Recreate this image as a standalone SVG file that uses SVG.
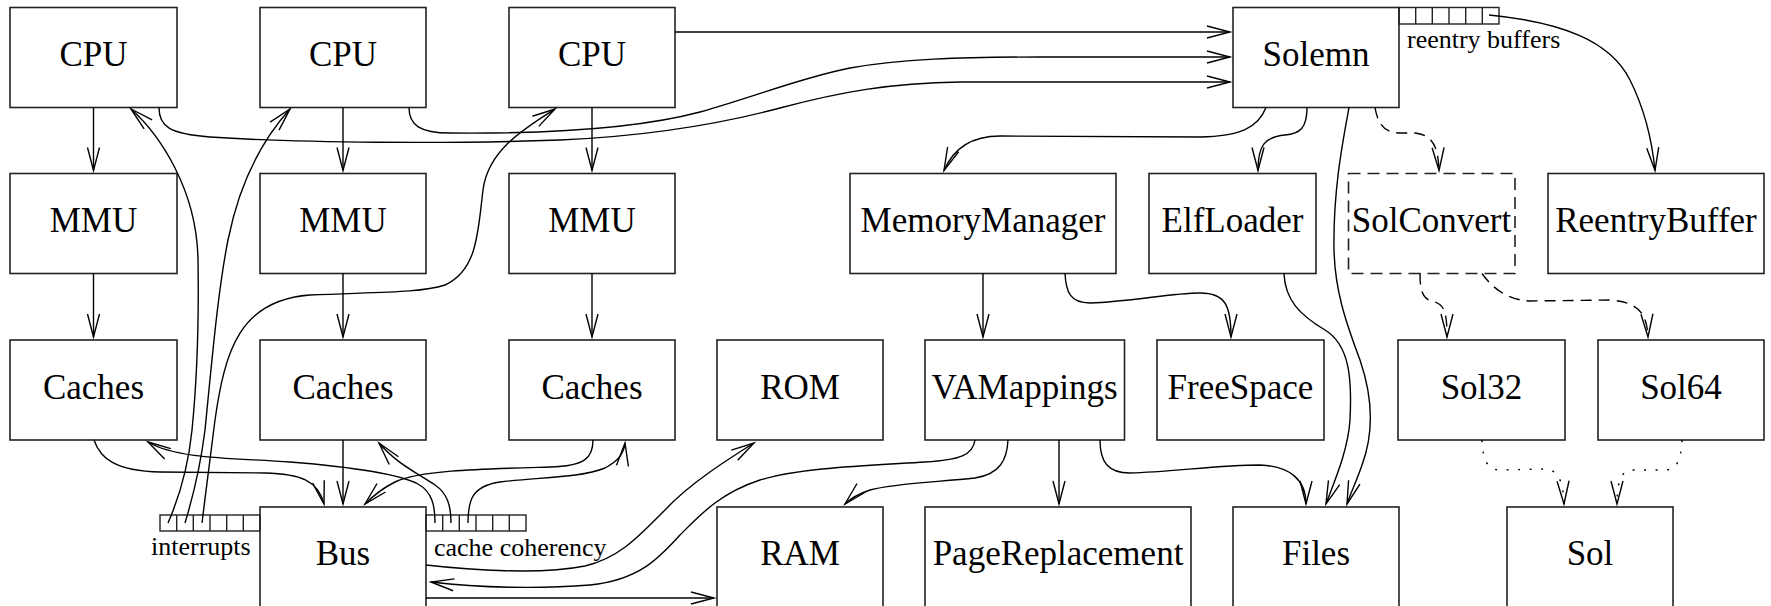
<svg xmlns="http://www.w3.org/2000/svg" width="1771" height="606" viewBox="0 0 1771 606">
<style>
.box{fill:white;stroke:#222;stroke-width:1.6}
.dbox{fill:white;stroke:#222;stroke-width:1.6;stroke-dasharray:12 7}
.lbl{font-family:"Liberation Serif","Times New Roman",serif;font-size:35px;text-anchor:middle;fill:#000}
.small{font-family:"Liberation Serif","Times New Roman",serif;font-size:26px;fill:#000}
.strip{fill:none;stroke:#222;stroke-width:1.4}
.c{fill:none;stroke:#000;stroke-width:1.4;marker-end:url(#arr)}
.dash{stroke-dasharray:11 7}
.dot{stroke-dasharray:2 9.5}
</style>
<defs>
<marker id="arr" markerUnits="userSpaceOnUse" markerWidth="30" markerHeight="30" viewBox="-26 -13 30 26" refX="0" refY="0" orient="auto" overflow="visible">
<path d="M-23,-6 L0,0 L-23,6" fill="none" stroke="#000" stroke-width="1.4"/>
</marker>
</defs>

<g id="cpu1"><rect class="box" x="10" y="7.5" width="167" height="100"/><text class="lbl" x="93.5" y="66">CPU</text></g>
<g id="cpu2"><rect class="box" x="260" y="7.5" width="166" height="100"/><text class="lbl" x="343" y="66">CPU</text></g>
<g id="cpu3"><rect class="box" x="509" y="7.5" width="166" height="100"/><text class="lbl" x="592" y="66">CPU</text></g>
<g id="solemn"><rect class="box" x="1233" y="7.5" width="166" height="100"/><text class="lbl" x="1316" y="66">Solemn</text>
<g id="reentry-buffers"><rect class="strip" x="1399" y="7.5" width="100" height="16.5"/>
<path class="strip" d="M1415.7,7.5v16.5M1432.3,7.5v16.5M1449,7.5v16.5M1465.7,7.5v16.5M1482.3,7.5v16.5"/>
<text class="small" x="1407" y="48">reentry buffers</text></g></g>

<g id="mmu1"><rect class="box" x="10" y="173.5" width="167" height="100"/><text class="lbl" x="93.5" y="232">MMU</text></g>
<g id="mmu2"><rect class="box" x="260" y="173.5" width="166" height="100"/><text class="lbl" x="343" y="232">MMU</text></g>
<g id="mmu3"><rect class="box" x="509" y="173.5" width="166" height="100"/><text class="lbl" x="592" y="232">MMU</text></g>
<g id="memorymanager"><rect class="box" x="850" y="173.5" width="266" height="100"/><text class="lbl" x="983" y="232">MemoryManager</text></g>
<g id="elfloader"><rect class="box" x="1149" y="173.5" width="167" height="100"/><text class="lbl" x="1232.5" y="232">ElfLoader</text></g>
<g id="solconvert"><rect class="dbox" x="1348.5" y="173.5" width="166.5" height="100"/><text class="lbl" x="1431.5" y="232">SolConvert</text></g>
<g id="reentrybuffer"><rect class="box" x="1548" y="173.5" width="216" height="100"/><text class="lbl" x="1656" y="232">ReentryBuffer</text></g>

<g id="caches1"><rect class="box" x="10" y="340" width="167" height="100"/><text class="lbl" x="93.5" y="399">Caches</text></g>
<g id="caches2"><rect class="box" x="260" y="340" width="166" height="100"/><text class="lbl" x="343" y="399">Caches</text></g>
<g id="caches3"><rect class="box" x="509" y="340" width="166" height="100"/><text class="lbl" x="592" y="399">Caches</text></g>
<g id="rom"><rect class="box" x="717" y="340" width="166" height="100"/><text class="lbl" x="800" y="399">ROM</text></g>
<g id="vamappings"><rect class="box" x="925" y="340" width="199.5" height="100"/><text class="lbl" x="1024.5" y="399">VAMappings</text></g>
<g id="freespace"><rect class="box" x="1157" y="340" width="167" height="100"/><text class="lbl" x="1240.5" y="399">FreeSpace</text></g>
<g id="sol32"><rect class="box" x="1398" y="340" width="167" height="100"/><text class="lbl" x="1481.5" y="399">Sol32</text></g>
<g id="sol64"><rect class="box" x="1598" y="340" width="166" height="100"/><text class="lbl" x="1681" y="399">Sol64</text></g>

<g id="bus"><rect class="box" x="260" y="507" width="166" height="100"/><text class="lbl" x="343" y="565">Bus</text>
<g id="interrupts"><rect class="strip" x="160" y="515" width="100" height="16"/>
<path class="strip" d="M176.7,515v16M193.3,515v16M210,515v16M226.7,515v16M243.3,515v16"/>
<text class="small" x="151" y="555">interrupts</text></g>
<g id="cache-coherency"><rect class="strip" x="426" y="515" width="100" height="16"/>
<path class="strip" d="M442.7,515v16M459.3,515v16M476,515v16M492.7,515v16M509.3,515v16"/>
<text class="small" x="434" y="556">cache coherency</text></g></g>
<g id="ram"><rect class="box" x="717" y="507" width="166" height="100"/><text class="lbl" x="800" y="565">RAM</text></g>
<g id="pagereplacement"><rect class="box" x="925" y="507" width="266" height="100"/><text class="lbl" x="1058" y="565">PageReplacement</text></g>
<g id="files"><rect class="box" x="1233" y="507" width="166" height="100"/><text class="lbl" x="1316" y="565">Files</text></g>
<g id="sol"><rect class="box" x="1507" y="507" width="166" height="100"/><text class="lbl" x="1590" y="565">Sol</text></g>

<g id="connectors">
<path class="c" d="M93.5,107.5V170.5"/>
<path class="c" d="M343,107.5V170.5"/>
<path class="c" d="M592,107.5V170.5"/>
<path class="c" d="M93.5,273.5V337"/>
<path class="c" d="M343,273.5V337"/>
<path class="c" d="M592,273.5V337"/>
<path class="c" d="M675,32H1230"/>
<path class="c" d="M409,107.5C409,125 420,133 450,133C560,134 640,128 700,112C760,95 800,78 850,68C900,59 960,57 1040,57L1230,57"/>
<path class="c" d="M159,107.5C159,127 170,134 210,137C300,143 450,144 560,140C650,136 720,124 780,108C840,92 890,83 960,82L1230,82"/>
<path class="c" d="M168,523C178,500 188,470 192,430C197,380 199,320 198,260C197,190 160,135 131,109"/>
<path class="c" d="M185,523C192,500 200,470 205,430C212,360 218,290 228,240C240,180 262,140 290,109"/>
<path class="c" d="M202,523C206,490 210,460 215,420C225,350 240,300 310,295C380,292 420,293 445,285C478,270 478,230 483,190C488,150 525,128 555,109"/>
<path class="c" d="M94,440C100,458 115,471 160,472L265,473C300,474 318,480 324,504"/>
<path class="c" d="M343,440V504"/>
<path class="c" d="M593,440C593,458 585,466 550,467C480,469 420,470 395,482C383,488 375,494 365,504"/>
<path class="c" d="M435,523C435,505 432,492 418,484C395,472 340,466 290,462C240,458 178,460 148,442"/>
<path class="c" d="M451,523C451,505 447,493 435,485C415,472 395,462 379,443"/>
<path class="c" d="M468,523C468,500 472,486 500,482C540,477 580,478 605,468C620,460 624,452 625,443"/>
<path class="c" d="M426,565C470,570 540,575 585,566C620,558 640,535 665,510C690,483 730,458 754,443"/>
<path class="c" d="M975,440C973,455 960,460 925,462C860,466 800,468 760,480C720,493 700,515 680,535C660,557 640,580 590,585C540,589 480,588 431,582"/>
<path class="c" d="M426,598H714"/>
<path class="c" d="M983,273.5V337"/>
<path class="c" d="M1065,273.5C1066,292 1070,303 1090,303C1130,302 1170,293 1200,293C1225,293 1231,305 1231,337"/>
<path class="c" d="M1008,440C1007,460 1000,474 975,478C940,482 895,483 870,490C858,494 850,499 845,504"/>
<path class="c" d="M1059,440V504"/>
<path class="c" d="M1100,440C1100,462 1108,473 1130,473C1170,472 1220,465 1260,465C1290,466 1306,480 1306,504"/>
<path class="c" d="M1284,273.5C1285,300 1300,315 1325,330C1350,345 1352,380 1350,420C1348,450 1335,480 1326,504"/>
<path class="c" d="M1349,107.5C1343,140 1333,190 1334,250C1335,290 1345,320 1360,360C1372,395 1375,430 1362,465C1357,480 1351,492 1347,504"/>
<path class="c" d="M1307,107.5C1307,128 1300,134 1285,135C1265,137 1258,145 1258,170.5"/>
<path class="c" d="M1266,107.5C1258,128 1240,136 1200,137L1000,136C975,136 955,145 944,170.5"/>
<path class="c dash" d="M1375,107.5C1378,125 1385,133 1400,133L1415,133C1432,135 1438,145 1439,170.5"/>
<path class="c" d="M1489,15C1560,22 1610,40 1630,80C1645,110 1652,140 1655,170.5"/>
<path class="c dash" d="M1420,273.5C1420,290 1422,300 1435,302C1445,305 1447,315 1447,337"/>
<path class="c dash" d="M1482,273.5C1490,285 1505,300 1530,301L1610,300C1640,302 1647,315 1648,337"/>
<path class="c dot" d="M1482,440C1483,460 1487,470 1500,470L1545,469C1558,470 1563,480 1564,504"/>
<path class="c dot" d="M1682,440C1681,460 1677,470 1665,470L1630,470C1620,472 1617,485 1617,504"/>
</g>
</svg>
